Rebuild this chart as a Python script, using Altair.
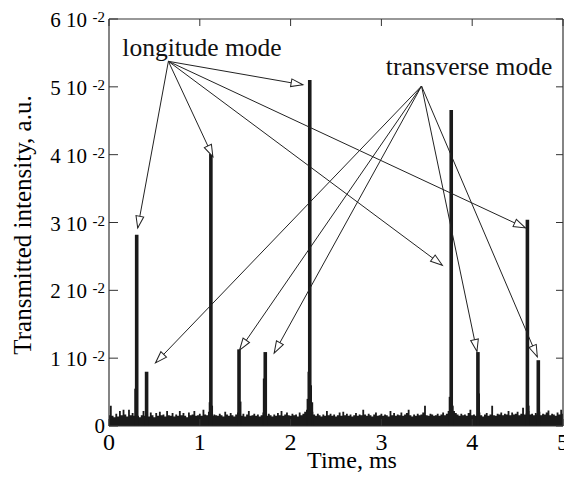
import math
import altair as alt
import pandas as pd

# plot-area size (pixels) and data extents
W, H = 454, 407
X_MAX, Y_MAX = 5.0, 6.0
FONT = "Liberation Serif"
INK = "#1a1a1a"

# background noise floor, units of 1e-2, sampled every 0.02 ms from 0 to 5 ms
noise = [
    0.16, 0.30, 0.15, 0.13, 0.18, 0.14, 0.22, 0.16, 0.24, 0.17,
    0.14, 0.24, 0.16, 0.19, 0.15, 0.17, 0.15, 0.13, 0.16, 0.22,
    0.15, 0.18, 0.14, 0.20, 0.16, 0.13, 0.19, 0.15, 0.21, 0.16,
    0.17, 0.14, 0.22, 0.16, 0.15, 0.19, 0.14, 0.17, 0.15, 0.22,
    0.16, 0.19, 0.15, 0.13, 0.20, 0.16, 0.17, 0.22, 0.15, 0.16,
    0.18, 0.15, 0.24, 0.17, 0.16, 0.21, 0.19, 0.15, 0.17, 0.16,
    0.15, 0.18, 0.16, 0.14, 0.21, 0.17, 0.15, 0.19, 0.16, 0.14,
    0.17, 0.20, 0.16, 0.15, 0.18, 0.14, 0.17, 0.22, 0.15, 0.16,
    0.18, 0.15, 0.17, 0.14, 0.16, 0.20, 0.17, 0.15, 0.18, 0.16,
    0.14, 0.17, 0.15, 0.19, 0.16, 0.22, 0.15, 0.17, 0.20, 0.16,
    0.15, 0.18, 0.16, 0.17, 0.14, 0.20, 0.16, 0.18, 0.21, 0.24,
    0.28, 0.32, 0.21, 0.17, 0.15, 0.18, 0.16, 0.14, 0.17, 0.15,
    0.22, 0.16, 0.18, 0.15, 0.17, 0.14, 0.16, 0.20, 0.15, 0.21,
    0.16, 0.18, 0.15, 0.17, 0.14, 0.16, 0.19, 0.15, 0.17, 0.16,
    0.24, 0.17, 0.15, 0.18, 0.16, 0.14, 0.17, 0.20, 0.15, 0.16,
    0.18, 0.15, 0.17, 0.16, 0.14, 0.22, 0.16, 0.19, 0.15, 0.17,
    0.16, 0.20, 0.15, 0.17, 0.19, 0.24, 0.16, 0.14, 0.17, 0.15,
    0.18, 0.16, 0.17, 0.20, 0.30, 0.16, 0.15, 0.18, 0.17, 0.15,
    0.16, 0.18, 0.15, 0.17, 0.20, 0.16, 0.18, 0.22, 0.32, 0.28,
    0.22, 0.19, 0.17, 0.15, 0.18, 0.16, 0.17, 0.15, 0.19, 0.24,
    0.16, 0.17, 0.15, 0.18, 0.20, 0.16, 0.14, 0.17, 0.19, 0.15,
    0.17, 0.30, 0.16, 0.15, 0.18, 0.17, 0.20, 0.16, 0.18, 0.17,
    0.22, 0.16, 0.20, 0.17, 0.18, 0.21, 0.16, 0.18, 0.27, 0.17,
    0.19, 0.22, 0.17, 0.18, 0.16, 0.19, 0.17, 0.21, 0.16, 0.18,
    0.17, 0.20, 0.23, 0.16, 0.18, 0.17, 0.15, 0.20, 0.17, 0.24,
    0.18,
]
noise_step = 0.02

# resonance peaks (time in ms, height in 1e-2)
peak_t = [0.305, 0.414, 1.122, 1.432, 1.721, 2.211, 3.769, 4.063, 4.608, 4.728]
peak_h = [2.82, 0.80, 4.01, 1.13, 1.09, 5.10, 4.66, 1.09, 3.04, 0.97]

# shoulders at the feet of the peaks
shoulder_t = [0.292, 1.112, 1.132, 1.445, 1.708, 2.200, 2.222, 2.190, 2.235, 3.755, 3.782, 4.072, 4.618]
shoulder_h = [0.55, 0.35, 0.30, 0.36, 0.70, 0.80, 0.60, 0.40, 0.35, 0.43, 0.30, 0.48, 0.30]

x_ticks = [0, 1, 2, 3, 4, 5]
x_tick_labels = ["0", "1", "2", "3", "4", "5"]
y_ticks = [0, 1, 2, 3, 4, 5, 6]
y_tick_labels = ["0", "1 10", "2 10", "3 10", "4 10", "5 10", "6 10"]
y_tick_sup = ["", "-2", "-2", "-2", "-2", "-2", "-2"]

x_title = "Time, ms"
y_title = "Transmitted intensity, a.u."

# annotations
long_label = "longitude mode"
long_label_pos = (1.024, 5.448)
long_anchor = (0.654, 5.376)
long_target_t = [0.316, 1.144, 2.135, 3.671, 4.586]
long_target_y = [2.92, 3.97, 5.03, 2.37, 2.92]

trans_label = "transverse mode"
trans_label_pos = (3.965, 5.172)
trans_anchor = (3.442, 5.012)
trans_target_t = [0.512, 1.438, 1.819, 4.052, 4.717]
trans_target_y = [0.93, 1.12, 1.075, 1.10, 1.02]

# ---------------------------------------------------------------
xs = alt.Scale(domain=[0, X_MAX], nice=False, zero=False)
ys = alt.Scale(domain=[0, Y_MAX], nice=False, zero=False)


def X(field):
    return alt.X(field, scale=xs, axis=None)


def Y(field):
    return alt.Y(field, scale=ys, axis=None)


noise_df = pd.DataFrame({"t": [round(i * noise_step, 3) for i in range(len(noise))], "v": noise})
peak_df = pd.DataFrame({"t": peak_t, "h": peak_h, "z": 0.0})
shoulder_df = pd.DataFrame({"t": shoulder_t, "h": shoulder_h, "z": 0.0})

rows = []
for (ax, ay), tt, ty in [(long_anchor, long_target_t, long_target_y),
                         (trans_anchor, trans_target_t, trans_target_y)]:
    for t2, y2 in zip(tt, ty):
        dx = (t2 - ax) * W / X_MAX
        dy = -(y2 - ay) * H / Y_MAX
        ang = math.degrees(math.atan2(dx, -dy)) % 360
        rows.append({"x1": ax, "y1": ay, "x2": t2, "y2": y2, "ang": ang})
arrow_df = pd.DataFrame(rows)

label_df = pd.DataFrame({
    "t": [long_label_pos[0], trans_label_pos[0]],
    "y": [long_label_pos[1], trans_label_pos[1]],
    "txt": [long_label, trans_label],
})

ytick_df = pd.DataFrame({"v": y_ticks, "lab": y_tick_labels, "sup": y_tick_sup})
xtick_df = pd.DataFrame({"t": x_ticks, "lab": x_tick_labels})
one = pd.DataFrame({"k": [0]})

noise_layer = alt.Chart(noise_df).mark_area(interpolate="step", color=INK).encode(
    x=X("t:Q"), y=Y("v:Q"))

shoulder_layer = alt.Chart(shoulder_df).mark_rule(color=INK, strokeWidth=2.5).encode(
    x=X("t:Q"), y=Y("z:Q"), y2="h:Q")

peak_layer = alt.Chart(peak_df).mark_rule(color=INK, strokeWidth=3.6).encode(
    x=X("t:Q"), y=Y("z:Q"), y2="h:Q")

arrow_lines = alt.Chart(arrow_df).mark_rule(color="#222", strokeWidth=1).encode(
    x=X("x1:Q"), y=Y("y1:Q"), x2="x2:Q", y2="y2:Q")

arrow_heads = alt.Chart(arrow_df).mark_point(
    shape="M0,0L-0.33,1L0.33,1Z", filled=True, fill="white", fillOpacity=1,
    stroke="#222", strokeWidth=1, size=560, opacity=1,
).encode(x=X("x2:Q"), y=Y("y2:Q"), angle=alt.Angle("ang:Q", scale=None))

labels = alt.Chart(label_df).mark_text(
    font=FONT, fontSize=25.5, color="#111", align="center", baseline="alphabetic"
).encode(x=X("t:Q"), y=Y("y:Q"), text="txt:N")

ytick_main = alt.Chart(ytick_df[ytick_df["sup"] != ""]).mark_text(
    font=FONT, fontSize=21, color="black", align="right", baseline="alphabetic", dy=8
).encode(x=alt.value(-22), y=Y("v:Q"), text="lab:N")
ytick_zero = alt.Chart(ytick_df[ytick_df["sup"] == ""]).mark_text(
    font=FONT, fontSize=21, color="black", align="right", baseline="alphabetic", dy=7
).encode(x=alt.value(-4), y=Y("v:Q"), text="lab:N")
ytick_sup = alt.Chart(ytick_df[ytick_df["sup"] != ""]).mark_text(
    font=FONT, fontSize=15, color="black", align="right", baseline="alphabetic", dy=3
).encode(x=alt.value(-4), y=Y("v:Q"), text="sup:N")

xtick_text = alt.Chart(xtick_df).mark_text(
    font=FONT, fontSize=24, color="black", align="center", baseline="alphabetic"
).encode(x=X("t:Q"), y=alt.value(H + 24), text="lab:N")

x_title_mark = alt.Chart(one).mark_text(
    font=FONT, fontSize=24, color="black", align="center", baseline="alphabetic"
).encode(x=alt.value(243), y=alt.value(H + 42), text=alt.value(x_title))

y_title_mark = alt.Chart(one).mark_text(
    font=FONT, fontSize=25, color="black", align="center", baseline="alphabetic", angle=270
).encode(x=alt.value(-78), y=alt.value(206), text=alt.value(y_title))

left_ticks = alt.Chart(ytick_df).mark_rule(color="#333", strokeWidth=1).encode(
    x=alt.value(0), x2=alt.value(9), y=Y("v:Q"))
right_ticks = alt.Chart(ytick_df).mark_rule(color="#333", strokeWidth=1).encode(
    x=alt.value(W - 7), x2=alt.value(W), y=Y("v:Q"))
top_ticks = alt.Chart(xtick_df).mark_rule(color="#333", strokeWidth=1).encode(
    x=X("t:Q"), y=alt.value(0), y2=alt.value(7))
bottom_ticks = alt.Chart(xtick_df).mark_rule(color="#333", strokeWidth=1).encode(
    x=X("t:Q"), y=alt.value(H - 7), y2=alt.value(H))

frame_h = alt.Chart(pd.DataFrame({"yy": [0, H]})).mark_rule(color="#333", strokeWidth=1.2).encode(
    x=alt.value(0), x2=alt.value(W), y=alt.Y("yy:Q", scale=None, axis=None))
frame_v = alt.Chart(pd.DataFrame({"xx": [0, W]})).mark_rule(color="#333", strokeWidth=1.2).encode(
    x=alt.X("xx:Q", scale=None, axis=None), y=alt.value(0), y2=alt.value(H))

chart = alt.layer(
    noise_layer, shoulder_layer, peak_layer,
    left_ticks, right_ticks, top_ticks, bottom_ticks,
    frame_h, frame_v,
    arrow_lines, arrow_heads, labels,
    ytick_main, ytick_sup, ytick_zero, xtick_text,
    x_title_mark, y_title_mark,
).properties(
    width=W, height=H,
    autosize="none",
    padding={"left": 101, "top": 11, "right": 1, "bottom": 47},
    background="white",
).configure_view(stroke=None)

chart.save("out.html", embed_options={"renderer": "svg", "actions": False})
